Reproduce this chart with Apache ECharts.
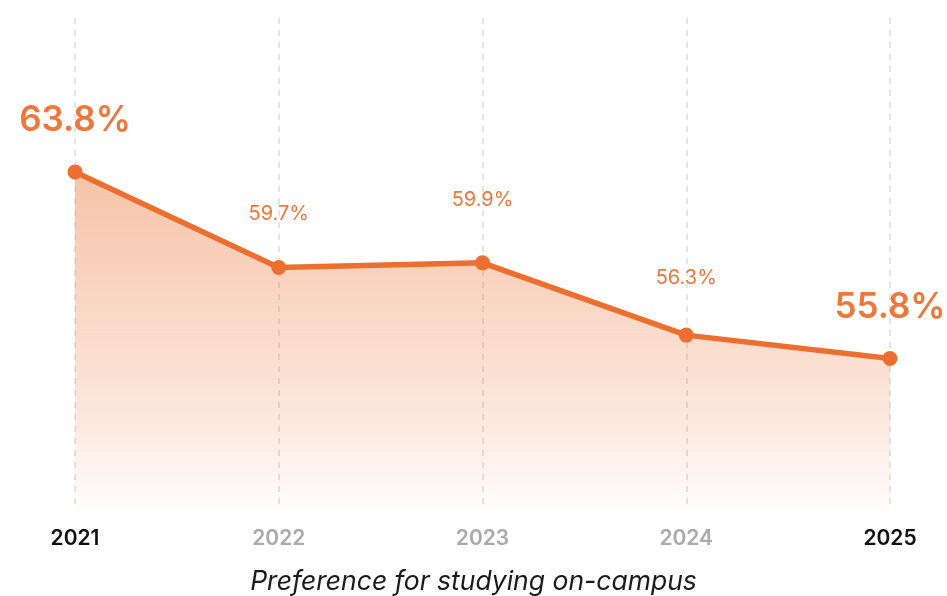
<!DOCTYPE html>
<html>
<head>
<meta charset="utf-8">
<script src="https://cdn.jsdelivr.net/npm/echarts@6/dist/echarts.min.js"></script>
<style>
html,body{margin:0;padding:0;background:#fff;}
#chart{width:947px;height:596px;}
</style>
</head>
<body>
<div id="chart"></div>
<script>
const years = ['2021', '2022', '2023', '2024', '2025'];
const values = [63.8, 59.7, 59.9, 56.8, 55.8];
const labelTexts = ['63.8%', '59.7%', '59.9%', '56.3%', '55.8%'];
const caption = 'Preference for studying on-campus';

const FONT = 'Inter, "Noto Sans", sans-serif';
const ORANGE = '#ec6f2f';
const highlight = [true, false, false, false, true];
const labelDist = [26, 36, 45, 40, 26];

const seriesData = values.map((v, i) => ({
  value: v,
  label: highlight[i]
    ? { fontSize: 35, fontWeight: 600, distance: labelDist[i] }
    : { fontSize: 20, fontWeight: 400, distance: labelDist[i] }
}));

const chart = echarts.init(document.getElementById('chart'));
chart.setOption({
  animation: false,
  title: {
    text: caption,
    left: 'center',
    bottom: -5,
    textStyle: { fontFamily: FONT, fontSize: 26.5, fontStyle: 'italic', fontWeight: 400, color: '#1a1a1a' }
  },
  grid: { left: 75, right: 57, top: 18, bottom: 86 },
  xAxis: {
    type: 'category',
    data: years,
    boundaryGap: false,
    axisLine: { show: false },
    axisTick: { show: false },
    axisLabel: {
      margin: 18,
      fontFamily: FONT,
      fontSize: 21,
      fontWeight: 600,
      color: (val, idx) => highlight[idx] ? '#111' : '#aaaaaa'
    },
    splitLine: { show: true, lineStyle: { color: '#dcdcdc', type: [6, 6], width: 1.5 } }
  },
  yAxis: {
    type: 'value',
    min: 49.3,
    max: 70.4,
    show: false,
    splitLine: { show: false }
  },
  series: [{
    type: 'line',
    data: seriesData,
    symbol: 'circle',
    symbolSize: 15,
    itemStyle: { color: ORANGE },
    lineStyle: { color: ORANGE, width: 5.5 },
    label: {
      show: true,
      position: 'top',
      fontFamily: FONT,
      color: '#ee783b',
      formatter: p => labelTexts[p.dataIndex]
    },
    areaStyle: {
      color: new echarts.graphic.LinearGradient(0, 0, 0, 1, [
        { offset: 0, color: 'rgba(236,111,47,0.6)' },
        { offset: 0.75, color: 'rgba(236,111,47,0.22)' },
        { offset: 1, color: 'rgba(236,111,47,0.02)' }
      ])
    }
  }]
});
</script>
</body>
</html>
